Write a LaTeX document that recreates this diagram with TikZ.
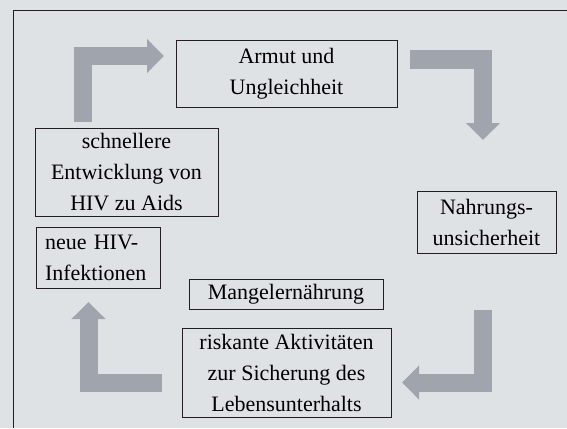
\documentclass[tikz,border=0pt]{standalone}
\usepackage{fontspec}
\setmainfont{Liberation Serif}
\usepackage{tikz}
\usetikzlibrary{positioning, arrows.meta}

\definecolor{hg}{HTML}{DFE2E5}
\definecolor{pfeil}{HTML}{A0A4AD}
\definecolor{rand}{HTML}{231F20}

\tikzset{
    kasten/.style={draw=rand, line width=0.7pt, inner sep=2pt, align=center,
        font=\fontsize{22}{31}\selectfont},
    pfeilL/.style={draw=pfeil, line width=18pt, line join=miter,
        -{Triangle[length=17pt, width=33pt]}}
}

\begin{document}
\begin{tikzpicture}[x=1pt, y=-1pt]
        % 背景と枠の描画
        \fill[hg] (0,0) rectangle (567,428);
        \useasboundingbox (0,0) rectangle (567,428);
        \draw[rand, line width=0.8pt] (13,428) -- (13,10) -- (567,10);

        % 箱の描画
        \node[kasten, minimum width=221pt, minimum height=67pt] (armut) at (286.5,73.5) {Armut und\\Ungleichheit};
        \node[kasten, minimum width=139pt, minimum height=62pt] (nahrung) at (486.5,222) {Nahrungs-\\unsicherheit};
        \node[kasten, minimum width=194pt, minimum height=30pt] (mangel) at (286,294) {Mangelernährung};
        \node[kasten, minimum width=209pt, minimum height=89pt] (risiko) at (286.5,372.5) {riskante Aktivitäten\\zur Sicherung des\\Lebensunterhalts};
        \node[kasten, minimum width=124pt, minimum height=61pt, align=left, text width=106pt] (hiv) at (98,257.5) {neue HIV-\\Infektionen};
        \node[kasten, minimum width=183pt, minimum height=88pt] (aids) at (126.5,172) {schnellere\\Entwicklung von\\HIV zu Aids};

        % 矢印の描画
        \coordinate (a1) at (83,122);
        \coordinate (k1) at (83,56);
        \coordinate (e1) at (164,56);
        \draw[pfeilL] (a1) -- (k1) -- (e1);

        \coordinate (a2) at (410,59.5);
        \coordinate (k2) at (483,59.5);
        \coordinate (e2) at (483,140);
        \draw[pfeilL] (a2) -- (k2) -- (e2);

        \coordinate (a3) at (483,310);
        \coordinate (k3) at (483,382.5);
        \coordinate (e3) at (402,382.5);
        \draw[pfeilL] (a3) -- (k3) -- (e3);

        \coordinate (a4) at (162,383);
        \coordinate (k4) at (88.5,383);
        \coordinate (e4) at (88.5,302);
        \draw[pfeilL] (a4) -- (k4) -- (e4);
    \end{tikzpicture}
\end{document}
